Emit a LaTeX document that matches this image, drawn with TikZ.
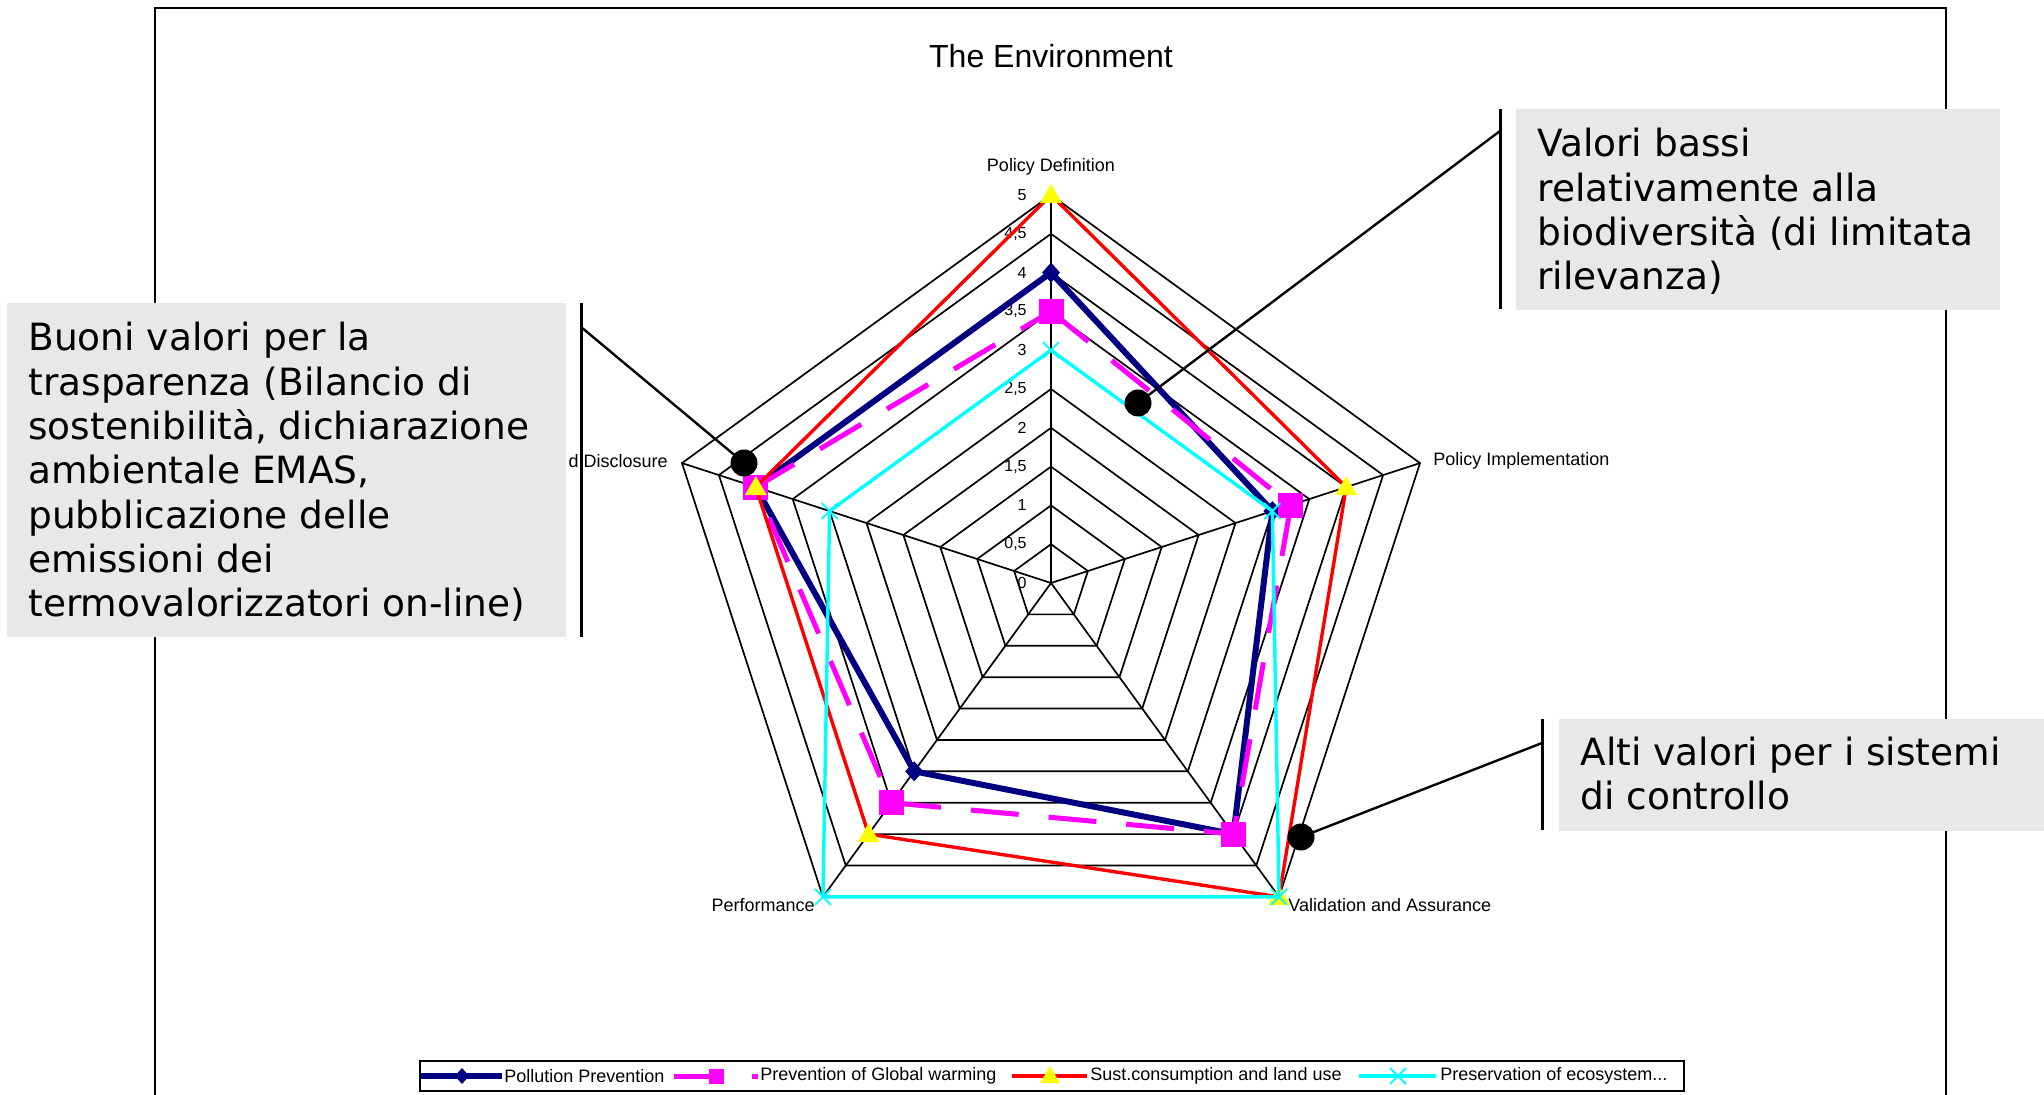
\documentclass[tikz,border=0pt]{standalone}
\usepackage{fontspec}
\setmainfont{Liberation Sans}
\newfontfamily\notefont{DejaVu Sans}
\definecolor{seriesnavy}{RGB}{0,0,128}
\definecolor{seriesmag}{RGB}{255,0,255}
\definecolor{seriesred}{RGB}{255,0,0}
\definecolor{seriescyan}{RGB}{0,255,255}
\definecolor{seriesyellow}{RGB}{255,255,0}
\definecolor{notegray}{RGB}{232,232,232}

\begin{document}
\begin{tikzpicture}[x=0.5pt,y=-0.5pt,
  gridline/.style={line width=0.85pt, black},
  axislabel/.style={font=\fontsize{9}{11}\selectfont, inner sep=0pt},
  ticklabel/.style={font=\fontsize{8}{10}\selectfont, inner sep=0pt, anchor=east},
  legendtext/.style={font=\fontsize{9}{11}\selectfont, inner sep=0pt, anchor=west},
  navyline/.style={seriesnavy, line width=3pt, line join=round},
  magline/.style={seriesmag, line width=2.5pt, dash pattern=on 24pt off 15pt},
  redline/.style={seriesred, line width=1.7pt, line join=round},
  cyanline/.style={seriescyan, line width=1.7pt, line join=round},
  notebox/.style={fill=notegray, draw=none},
  notetext/.style={font=\notefont\fontsize{18.75}{22.15}\selectfont, inner sep=0pt, anchor=base west},
  notebar/.style={line width=1.5pt},
  noteline/.style={line width=1.2pt},
  notedot/.style={circle, fill=black, minimum size=13.5pt, inner sep=0pt},
  navymark/.pic={\fill[seriesnavy] (0,-10) -- (9,0) -- (0,10) -- (-9,0) -- cycle;},
  magmark/.pic={\fill[seriesmag] (-12.5,-12.5) rectangle (12.5,12.5);},
  redmark/.pic={\fill[seriesyellow] (0,-11) -- (11,8) -- (-11,8) -- cycle;},
  cyanmark/.pic={\draw[seriescyan, line width=0.9pt] (-8,-8) -- (8,8) (-8,8) -- (8,-8);}
]
\useasboundingbox (0,0) rectangle (2044,1095);
\fill[white] (0,0) rectangle (2044,1095);

% chart frame (open at the bottom of the page)
\draw[line width=1.4pt] (155,1095) -- (155,8) -- (1946,8) -- (1946,1095);

% title
\node[font=\fontsize{16}{19}\selectfont, inner sep=0pt] (title) at (1051,56) {The Environment};

% radar grid: ten rings of 0.5 and five axes
\coordinate (ctr) at (1051,583);
\foreach \k in {1,...,10} {
  \draw[gridline] ({1051+38.8*\k*cos(90)},{583-38.8*\k*sin(90)})
    \foreach \j in {1,...,4} { -- ({1051+38.8*\k*cos(90-72*\j)},{583-38.8*\k*sin(90-72*\j)}) } -- cycle;
}
\foreach \j in {0,...,4} {
  \coordinate (ax\j) at ({1051+388*cos(90-72*\j)},{583-388*sin(90-72*\j)});
  \draw[gridline] (ctr) -- (ax\j);
}

% scale values on the vertical axis
\foreach \k/\t in {0/0,1/{0,5},2/1,3/{1,5},4/2,5/{2,5},6/3,7/{3,5},8/4,9/{4,5},10/5} {
  \node[ticklabel] (tick\k) at (1027,{583-38.8*\k}) {\t};
}

% axis names
\node[axislabel] (labdef) at (1051,167) {Policy Definition};
\node[axislabel, anchor=west] (labimpl) at (1433,461) {Policy Implementation};
\node[axislabel, anchor=west] (labval) at (1288,905) {Validation and Assurance};
\node[axislabel, anchor=east] (labperf) at (815,905) {Performance};
\node[axislabel, anchor=east] (labdisc) at (668,461) {d Disclosure};

% data points: Definition, Implementation, Validation, Performance, Disclosure
\foreach \v [count=\i from 0] in {4,3,4,3,4}
  \coordinate (pa\i) at ({1051+77.6*\v*cos(90-72*\i)},{583-77.6*\v*sin(90-72*\i)});
\foreach \v [count=\i from 0] in {3.5,3.25,4,3.5,4}
  \coordinate (pb\i) at ({1051+77.6*\v*cos(90-72*\i)},{583-77.6*\v*sin(90-72*\i)});
\foreach \v [count=\i from 0] in {5,4,5,4,4}
  \coordinate (pc\i) at ({1051+77.6*\v*cos(90-72*\i)},{583-77.6*\v*sin(90-72*\i)});
\foreach \v [count=\i from 0] in {3,3,5,5,3}
  \coordinate (pd\i) at ({1051+77.6*\v*cos(90-72*\i)},{583-77.6*\v*sin(90-72*\i)});

% series
\draw[navyline] (pa0) -- (pa1) -- (pa2) -- (pa3) -- (pa4) -- cycle;
\foreach \i in {0,...,4} \path (pa\i) pic {navymark};
\draw[magline] (pb0) -- (pb1) -- (pb2) -- (pb3) -- (pb4) -- cycle;
\foreach \i in {0,...,4} \path (pb\i) pic {magmark};
\draw[redline] (pc0) -- (pc1) -- (pc2) -- (pc3) -- (pc4) -- cycle;
\foreach \i in {0,...,4} \path (pc\i) pic {redmark};
\draw[cyanline] (pd0) -- (pd1) -- (pd2) -- (pd3) -- (pd4) -- cycle;
\foreach \i in {0,...,4} \path (pd\i) pic {cyanmark};

% legend
\draw[line width=1pt] (420,1061) rectangle (1684,1091);
\coordinate (lga) at (421,1076); \coordinate (lgb) at (502,1076);
\draw[navyline] (lga) -- (lgb);
\path (462,1076) pic[scale=0.8] {navymark};
\node[legendtext] (lta) at (504,1076) {Pollution Prevention};
\coordinate (lma) at (674,1076); \coordinate (lmb) at (758,1076);
\draw[magline] (lma) -- (lmb);
\path (716,1076) pic[scale=0.6] {magmark};
\node[legendtext] (ltb) at (760,1076) {Prevention of Global warming};
\coordinate (lra) at (1012,1076); \coordinate (lrb) at (1087,1076);
\draw[redline] (lra) -- (lrb);
\path (1050,1076) pic[scale=0.9] {redmark};
\node[legendtext] (ltc) at (1090,1076) {Sust.consumption and land use};
\coordinate (lca) at (1359,1076); \coordinate (lcb) at (1436,1076);
\draw[cyanline] (lca) -- (lcb);
\path (1398,1076) pic {cyanmark};
\node[legendtext] (ltd) at (1440,1076) {Preservation of ecosystem...};

% note: transparency
\fill[notebox] (7,303) rectangle (566,637);
\node[notetext] (notea) at (28,351) {\begin{tabular}[t]{@{}l@{}}Buoni valori per la\\trasparenza (Bilancio di\\sostenibilità, dichiarazione\\ambientale EMAS,\\pubblicazione delle\\emissioni dei\\termovalorizzatori on-line)\end{tabular}};
\draw[notebar] (581,303) -- (581,637);
\coordinate (nta) at (581,327);
\node[notedot] (dota) at (744,463) {};
\draw[noteline] (nta) -- (dota.center);

% note: biodiversity
\fill[notebox] (1516,109) rectangle (2000,310);
\node[notetext] (noteb) at (1537,157) {\begin{tabular}[t]{@{}l@{}}Valori bassi\\relativamente alla\\biodiversità (di limitata\\rilevanza)\end{tabular}};
\draw[notebar] (1500,109) -- (1500,309);
\coordinate (ntb) at (1500,131);
\node[notedot] (dotb) at (1138,403) {};
\draw[noteline] (ntb) -- (dotb.center);

% note: control systems
\fill[notebox] (1559,719) rectangle (2044,831);
\node[notetext] (notec) at (1580,765) {\begin{tabular}[t]{@{}l@{}}Alti valori per i sistemi\\di controllo\end{tabular}};
\draw[notebar] (1542,719) -- (1542,830);
\coordinate (ntc) at (1542,743);
\node[notedot] (dotc) at (1301,837) {};
\draw[noteline] (ntc) -- (dotc.center);
\end{tikzpicture}
\end{document}
